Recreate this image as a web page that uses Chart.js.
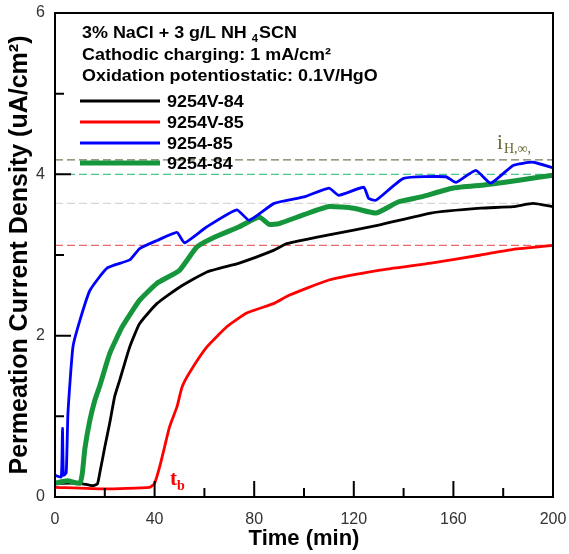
<!DOCTYPE html>
<html>
<head>
<meta charset="utf-8">
<script src="https://cdn.jsdelivr.net/npm/chart.js@4/dist/chart.umd.min.js"></script>
<style>
  html, body { margin: 0; padding: 0; background: #fff; }
</style>
</head>
<body>
<canvas id="perm" width="569" height="554"></canvas>
<script>
// time (min) / permeation current density (uA/cm2)
const tV84 = [0, 10, 15, 17, 18, 20, 22, 24, 26, 30, 34, 41, 50, 61, 74, 88, 93, 110, 130, 151, 171, 184, 192, 200];
const iV84 = [0.17, 0.17, 0.14, 0.16, 0.3, 0.62, 0.92, 1.25, 1.45, 1.86, 2.15, 2.40, 2.60, 2.79, 2.90, 3.06, 3.14, 3.25, 3.37, 3.52, 3.58, 3.60, 3.64, 3.60];

const tV85 = [0, 20, 38, 40, 42, 44, 46, 49, 51, 54, 61, 69, 77, 88, 94, 110, 130, 151, 171, 184, 200];
const iV85 = [0.12, 0.10, 0.12, 0.17, 0.37, 0.62, 0.87, 1.12, 1.36, 1.54, 1.86, 2.11, 2.28, 2.40, 2.50, 2.69, 2.81, 2.90, 3.00, 3.07, 3.12];

const t85 = [0, 2.5, 3, 3.4, 4.5, 5.2, 7.2, 10, 14, 21, 30, 34, 41, 49, 52, 61, 73, 78, 88, 100, 110, 114, 124, 126, 129, 140, 157, 161, 169, 175, 184, 192, 200];
const i85 = [0.27, 0.25, 0.85, 0.27, 0.3, 1.04, 1.86, 2.19, 2.56, 2.84, 2.94, 3.08, 3.18, 3.28, 3.15, 3.35, 3.56, 3.43, 3.64, 3.72, 3.83, 3.74, 3.84, 3.70, 3.68, 3.95, 3.97, 3.90, 4.05, 3.89, 4.11, 4.15, 4.08];

const t84 = [0, 5, 10, 11, 12, 14, 16, 18, 22, 27, 34, 41, 50, 57, 64, 74, 82, 86, 90, 100, 110, 120, 129, 138, 147, 160, 173, 187, 200];
const i84 = [0.17, 0.2, 0.17, 0.3, 0.6, 0.95, 1.2, 1.38, 1.78, 2.11, 2.44, 2.65, 2.81, 3.10, 3.22, 3.35, 3.47, 3.38, 3.39, 3.50, 3.60, 3.58, 3.52, 3.66, 3.72, 3.83, 3.87, 3.93, 3.99];

// dashed reference levels (i_H,inf)
const levelNames = ['iH 9254-85', 'iH 9254-84', 'iH 9254V-84', 'iH 9254V-85'];
const levels = [4.18, 4.0, 3.64, 3.12];

const seriesNames = ['9254V-84', '9254V-85', '9254-85', '9254-84'];
const headerLines = ['3% NaCl + 3 g/L NH ', 'Cathodic charging: 1 mA/cm²', 'Oxidation potentiostatic: 0.1V/HgO'];

const xTicks = [0, 20, 40, 60, 80, 100, 120, 140, 160, 180, 200];
const yTicks = [0, 1, 2, 3, 4, 5, 6];

function pts(t, v) {
  return t.map((x, k) => ({ x: x, y: v[k] }));
}
function flat(v) {
  return [{ x: 0, y: v }, { x: 200, y: v }];
}

const lineCols = ['#000000', '#ff0000', '#0000ff', '#16963c'];
const lineW = [2.8, 2.8, 2.8, 5];
const dashCols = ['#7a7a5c', '#4cc48a', '#d6d6d6', '#e86a6a'];

const datasets = [];
// blue and green drawn on top
[2, 3, 0, 1].forEach(k => {
  const src = [[tV84, iV84], [tV85, iV85], [t85, i85], [t84, i84]][k];
  datasets.push({
    label: seriesNames[k],
    data: pts(src[0], src[1]),
    borderColor: lineCols[k],
    borderWidth: lineW[k],
    pointRadius: 0,
    tension: 0.15,
    fill: false
  });
});
levels.forEach((v, k) => {
  datasets.push({
    label: levelNames[k],
    data: flat(v),
    borderColor: dashCols[k],
    borderWidth: 1.3,
    borderDash: [8, 4],
    pointRadius: 0,
    fill: false
  });
});

// box + inward ticks
const frame = {
  id: 'frame',
  afterDatasetsDraw(chart) {
    const { ctx, chartArea: a, scales } = chart;
    ctx.save();
    ctx.strokeStyle = '#000';
    ctx.lineWidth = 2;
    ctx.strokeRect(a.left, a.top, a.right - a.left, a.bottom - a.top);
    ctx.beginPath();
    xTicks.forEach(v => {
      const p = scales.x.getPixelForValue(v);
      const len = v % 40 === 0 ? 16 : 9;
      ctx.moveTo(p, a.bottom);
      ctx.lineTo(p, a.bottom - len);
    });
    yTicks.forEach(v => {
      const p = scales.y.getPixelForValue(v);
      const len = v % 2 === 0 ? 16 : 9;
      ctx.moveTo(a.left, p);
      ctx.lineTo(a.left + len, p);
    });
    ctx.stroke();
    ctx.restore();
  }
};

// legend block + annotations
const notes = {
  id: 'notes',
  afterDraw(chart) {
    const { ctx } = chart;
    const sx = 1.12;
    ctx.save();
    ctx.fillStyle = '#000';
    ctx.textBaseline = 'alphabetic';
    ctx.font = 'bold 16px Arial, "Liberation Sans", sans-serif';

    function stretched(txt, x, y) {
      ctx.save();
      ctx.translate(x, y);
      ctx.scale(sx, 1);
      ctx.fillText(txt, 0, 0);
      ctx.restore();
      return ctx.measureText(txt).width * sx;
    }

    let w = stretched(headerLines[0], 82, 38);
    ctx.font = 'bold 10px Arial, "Liberation Sans", sans-serif';
    let w2 = stretched('4', 82 + w, 42);
    ctx.font = 'bold 16px Arial, "Liberation Sans", sans-serif';
    stretched('SCN', 82 + w + w2 + 1, 38);
    stretched(headerLines[1], 82, 60);
    stretched(headerLines[2], 82, 81);

    const rows = [101, 122, 143, 163];
    seriesNames.forEach((n, k) => {
      ctx.strokeStyle = lineCols[k];
      ctx.lineWidth = k === 3 ? 5 : 3;
      ctx.beginPath();
      ctx.moveTo(80, rows[k]);
      ctx.lineTo(160, rows[k]);
      ctx.stroke();
      ctx.fillStyle = '#000';
      stretched(n, 167, rows[k] + 6);
    });

    // i_H,inf label
    ctx.fillStyle = '#66662e';
    ctx.font = '21px "Liberation Serif", "Times New Roman", serif';
    ctx.fillText('i', 497, 149);
    ctx.font = '14px "Liberation Serif", "Times New Roman", serif';
    ctx.fillText('H,∞,', 504, 153);

    // t_b label
    ctx.fillStyle = '#ff0000';
    ctx.font = 'bold 21px "Liberation Serif", "Times New Roman", serif';
    ctx.fillText('t', 170, 485);
    ctx.font = 'bold 14px "Liberation Serif", "Times New Roman", serif';
    ctx.fillText('b', 177, 490);
    ctx.restore();
  }
};

new Chart(document.getElementById('perm'), {
  type: 'line',
  data: { datasets: datasets },
  options: {
    responsive: false,
    animation: false,
    devicePixelRatio: 1,
    layout: { padding: { top: 13, right: 16, left: 0, bottom: 0 } },
    plugins: {
      legend: { display: false },
      tooltip: { enabled: false }
    },
    scales: {
      x: {
        type: 'linear',
        min: 0,
        max: 200,
        afterFit: s => { s.height = 57; s.paddingLeft = 0; s.paddingRight = 0; },
        afterBuildTicks: s => { s.ticks = xTicks.map(v => ({ value: v })); },
        grid: { display: false, drawTicks: false },
        border: { display: false },
        ticks: {
          padding: 13,
          color: '#333',
          font: { family: 'Arial, "Liberation Sans", sans-serif', size: 16 },
          callback: v => (v % 40 === 0 ? v : '')
        },
        title: {
          display: true,
          text: 'Time (min)',
          color: '#000',
          padding: { top: 0, bottom: 2 },
          font: { family: 'Arial, "Liberation Sans", sans-serif', size: 22, weight: 'bold' }
        }
      },
      y: {
        min: 0,
        max: 6,
        afterFit: s => { s.width = 55; s.paddingTop = 0; s.paddingBottom = 0; },
        afterBuildTicks: s => { s.ticks = yTicks.map(v => ({ value: v })); },
        grid: { display: false, drawTicks: false },
        border: { display: false },
        ticks: {
          padding: 10,
          color: '#333',
          font: { family: 'Arial, "Liberation Sans", sans-serif', size: 16 },
          callback: v => (v % 2 === 0 ? v : '')
        },
        title: {
          display: true,
          text: 'Permeation Current Density (uA/cm²)',
          color: '#000',
          padding: { top: 5, bottom: 0 },
          font: { family: 'Arial, "Liberation Sans", sans-serif', size: 25, weight: 'bold' }
        }
      }
    }
  },
  plugins: [frame, notes]
});
</script>
</body>
</html>
